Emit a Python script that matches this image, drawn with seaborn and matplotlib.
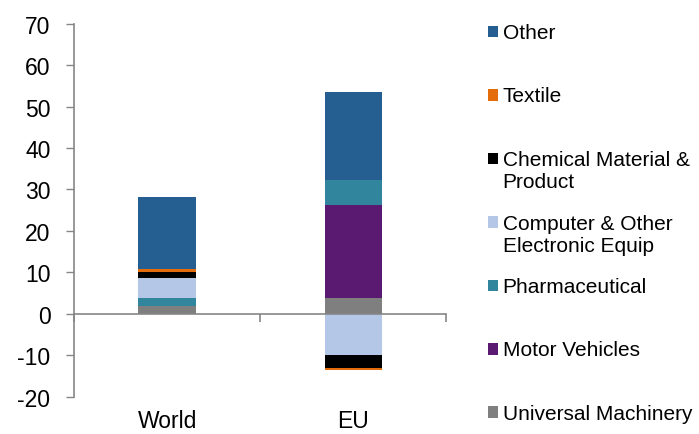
import numpy as np
import pandas as pd
import seaborn as sns
import matplotlib.pyplot as plt
from matplotlib.patches import Patch, Rectangle
from matplotlib.legend_handler import HandlerPatch

sns.set_style('white')
plt.rcParams['font.family'] = ['Liberation Sans', 'DejaVu Sans']
plt.rcParams['axes.unicode_minus'] = False
plt.rcParams['text.color'] = 'black'
plt.rcParams['xtick.labelcolor'] = 'black'
plt.rcParams['ytick.labelcolor'] = 'black'

# данные (снизу вверх в стеке)
regions = ['World', 'EU']
sectors = ['Universal Machinery', 'Motor Vehicles', 'Pharmaceutical',
           'Computer & Other\nElectronic Equip', 'Chemical Material &\nProduct',
           'Textile', 'Other']
universal = [1.9, 3.9]
motor = [0.0, 22.3]
pharma = [2.0, 6.2]
computer = [4.7, -9.9]
chemical = [1.6, -3.1]
textile = [0.5, -0.5]
other = [17.5, 21.2]
colors = ['#7f7f7f', '#5a1a72', '#31859c', '#b4c7e7', '#000000', '#e46c0a', '#255e91']

df = pd.DataFrame({'region': regions})
for name, vals in zip(sectors, [universal, motor, pharma, computer, chemical, textile, other]):
    df[name] = vals

fig = plt.figure(figsize=(6.99, 4.35), dpi=100)
ax = fig.add_axes([74 / 699, 1 - 397.7 / 435, (446.5 - 74) / 699, (397.7 - 24.7) / 435])

pos_base = np.zeros(len(regions))
neg_base = np.zeros(len(regions))
for name, col in zip(sectors, colors):
    vals = df[name].to_numpy()
    bottom = np.where(vals >= 0, pos_base, neg_base)
    sns.barplot(x=df['region'], y=vals, bottom=bottom, color=col, width=0.31,
                linewidth=0, ax=ax, saturation=1)
    pos_base = pos_base + np.where(vals >= 0, vals, 0)
    neg_base = neg_base + np.where(vals < 0, vals, 0)

ax.set_ylim(-20, 70)
ax.set_xlim(-0.5, 1.5)
ax.set_yticks(range(-20, 71, 10))
ax.tick_params(axis='y', labelsize=16.5, length=6, width=1, color='#868686',
               direction='out', pad=11, left=True)
ax.set_xlabel('')
ax.set_ylabel('')

# ось X проходит через ноль, деления между категориями
for s in ['top', 'right']:
    ax.spines[s].set_visible(False)
ax.spines['left'].set_color('#868686')
ax.spines['left'].set_linewidth(1.2)
ax.spines['bottom'].set_position(('data', 0))
ax.spines['bottom'].set_color('#868686')
ax.spines['bottom'].set_linewidth(1.2)
ax.set_xticks([-0.5, 0.5, 1.5])
ax.set_xticklabels([])
ax.tick_params(axis='x', length=6, width=1.2, color='#868686', direction='out', bottom=True)

sec = ax.secondary_xaxis(0)
sec.set_xticks([0, 1])
sec.set_xticklabels(regions)
sec.tick_params(length=0, labelsize=16.5, pad=9)
sec.spines['bottom'].set_visible(False)

# маркер легенды по первой строке подписи
def first_line_patch(legend, orig_handle, xdescent, ydescent, width, height, fontsize):
    nlines = orig_handle.get_label().count('\n') + 1
    shift = (nlines - 1) * fontsize * 0.58
    return Rectangle((-xdescent, -ydescent + shift), width, height)

# подписи в две строки (кроме последней), чтобы шаг легенды был одинаковым
handles = []
for name, c in zip(sectors, colors):
    lab = name if ('\n' in name or name == sectors[0]) else name + '\n'
    handles.append(Patch(facecolor=c, edgecolor='none', label=lab))
handles = handles[::-1]
labels = [h.get_label() for h in handles]
fig.legend(handles, labels, loc='upper left', bbox_to_anchor=(488 / 699, 1 - 24 / 435),
           frameon=False, fontsize=15, handlelength=0.5, handleheight=0.5,
           handletextpad=0.2, labelspacing=1.08, borderaxespad=0, borderpad=0,
           handler_map={Patch: HandlerPatch(patch_func=first_line_patch)})

fig.savefig('out.png', dpi=100)
plt.close()
